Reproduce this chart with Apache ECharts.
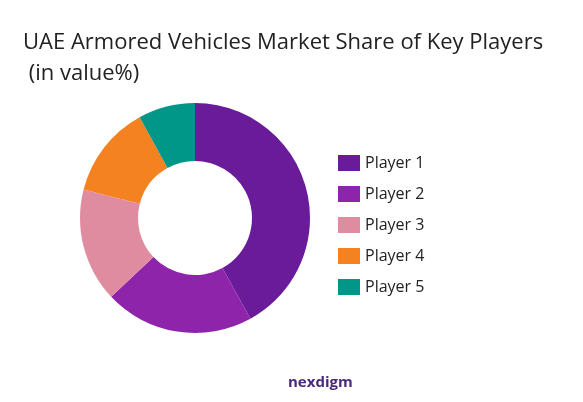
<!DOCTYPE html>
<html><head><meta charset="utf-8">
<script src="https://cdn.jsdelivr.net/npm/echarts@6/dist/echarts.min.js"></script>
<style>html,body{margin:0;padding:0;background:#fff}#c{width:583px;height:402px}</style>
</head><body><div id="c"></div>
<script>
const categories = ["Player 1","Player 2","Player 3","Player 4","Player 5"];
const values = [42,21,16,13,8];
const colors = ["#6a1b9a","#8e24aa","#e08ca0","#f58220","#009688"];
const chart = echarts.init(document.getElementById('c'));
chart.setOption({
  animation:false,
  title:[{text:"UAE Armored Vehicles Market Share of Key Players\n (in value%)",left:18,top:22,
    textStyle:{fontFamily:"Open Sans",fontSize:22,fontWeight:"normal",color:"#222",lineHeight:31}},
    {text:"nexdigm",left:283,top:370,textStyle:{fontFamily:"Open Sans",fontSize:15,fontWeight:"bold",color:"#4a2a7a"}}],
  legend:{orient:"vertical",left:333,top:150,itemWidth:22,itemHeight:16,itemGap:15,icon:"rect",
    textStyle:{fontFamily:"Open Sans",fontSize:16,color:"#222"},data:categories},
  series:[{type:"pie",center:[195,218],radius:[57,115],startAngle:90,clockwise:true,
    label:{show:false},labelLine:{show:false},
    data:categories.map((c,i)=>({name:c,value:values[i],itemStyle:{color:colors[i]}}))}]
});
</script></body></html>
